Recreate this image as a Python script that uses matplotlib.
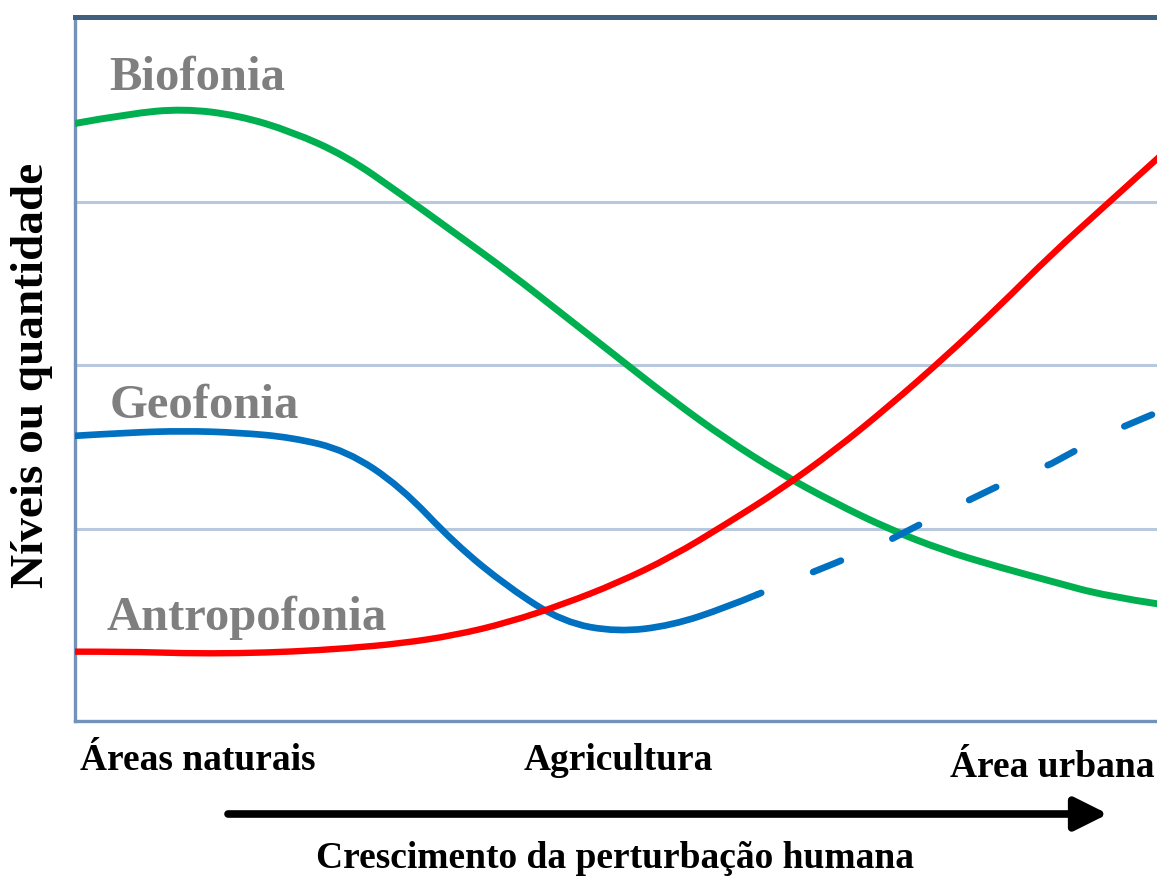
import matplotlib.pyplot as plt
from matplotlib.path import Path
from matplotlib.patches import PathPatch

plt.rcParams['lines.scale_dashes'] = False

# x = disturbance gradient (0 = natural areas, 10 = urban area)
x_pts = [0, 0.5, 1, 1.5, 2, 2.5, 3, 3.5, 4, 4.5, 5, 5.5, 6, 6.5, 7, 7.5, 8, 8.5, 9, 9.5, 10]

biofonia = [3.48, 3.54, 3.57, 3.53, 3.43, 3.28, 3.05, 2.81, 2.57, 2.31, 2.05,
            1.79, 1.55, 1.34, 1.16, 1.00, 0.87, 0.77, 0.68, 0.59, 0.54]
antropofonia = [0.25, 0.25, 0.24, 0.24, 0.25, 0.27, 0.30, 0.35, 0.43, 0.54, 0.67,
                0.83, 1.03, 1.24, 1.48, 1.75, 2.04, 2.35, 2.68, 2.98, 3.28]

# geofonia: observed part (solid) and projected part (dashed)
geo_x = [0, 0.5, 1, 1.5, 2, 2.5, 3, 3.5, 4, 4.5, 5, 5.5, 6, 6.29]
geofonia = [1.57, 1.59, 1.60, 1.59, 1.56, 1.48, 1.26, 0.91, 0.64, 0.43, 0.37, 0.41, 0.52, 0.60]
geo_proj_x = [6.29, 7, 7.5, 8, 8.5, 9, 9.5, 10]
geo_proj = [0.60, 0.79, 0.93, 1.10, 1.26, 1.40, 1.58, 1.72]

grid_levels = [1, 2, 3]
zone_labels = ["Áreas naturais", "Agricultura", "Área urbana"]


# smooth curve: data points used as quadratic bezier control points
def smooth_line(ax, xs, ys, **kw):
    pts = list(zip(xs, ys))
    verts = [pts[0]]
    codes = [Path.MOVETO]
    for i in range(1, len(pts) - 1):
        mid = ((pts[i][0] + pts[i + 1][0]) / 2, (pts[i][1] + pts[i + 1][1]) / 2)
        if i == len(pts) - 2:
            mid = pts[i + 1]
        verts += [pts[i], mid]
        codes += [Path.CURVE3, Path.CURVE3]
    if len(pts) == 2:
        verts.append(pts[1])
        codes.append(Path.LINETO)
    patch = PathPatch(Path(verts, codes), fill=False, **kw)
    ax.add_patch(patch)


fig = plt.figure(figsize=(11.57, 8.78), dpi=100)
W, H = 1157, 878
ax = fig.add_axes([75 / W, (H - 722) / H, (1160 - 75) / W, (722 - 18) / H])

smooth_line(ax, x_pts, biofonia, edgecolor='#00b050', lw=5, capstyle='round', zorder=3)
smooth_line(ax, x_pts, antropofonia, edgecolor='#ff0000', lw=4.6, capstyle='round', zorder=4)
smooth_line(ax, geo_x, geofonia, edgecolor='#0070c0', lw=4.8, capstyle='round', zorder=3)
ax.plot(geo_proj_x, geo_proj, color='#0070c0', lw=4.8, dash_capstyle='round',
        linestyle=(18.7, (21.6, 40.3)), zorder=3)

ax.set_xlim(0, 10)
ax.set_ylim(-0.174, 4.131)
ax.set_yticks(grid_levels)
ax.set_xticks([])
ax.tick_params(length=0, labelleft=False)
ax.grid(axis='y', color='#b9c9dd', lw=2.2, zorder=0)

ax.spines['right'].set_visible(False)
ax.spines['top'].set_color('#41607f')
ax.spines['top'].set_linewidth(3.6)
for s in ['left', 'bottom']:
    ax.spines[s].set_color('#7393bb')
    ax.spines[s].set_linewidth(2.4)

serif = 'Liberation Serif'
lab = dict(family=serif, weight='bold', color='#7f7f7f', fontsize=35, va='baseline')
ax.text(0.32, 3.69, "Biofonia", **lab)
ax.text(0.32, 1.685, "Geofonia", **lab)
ax.text(0.29, 0.39, "Antropofonia", **lab)

fig.text(32 / W, (H - 375) / H, "Níveis ou quantidade", rotation=90, family=serif,
         weight='bold', fontsize=34, ha='center', va='center', color='black')

zone_x = [80 / W, 618 / W, 1155 / W]
zone_y = [(H - 770) / H, (H - 770) / H, (H - 777) / H]
zone_ha = ['left', 'center', 'right']
for t, zx, zy, ha in zip(zone_labels, zone_x, zone_y, zone_ha):
    fig.text(zx, zy, t, family=serif, weight='bold', fontsize=27, ha=ha,
             va='baseline', color='black')

fig.text(615 / W, (H - 868) / H, "Crescimento da perturbação humana", family=serif,
         weight='bold', fontsize=27, ha='center', va='baseline', color='black')

ax.annotate('', xy=(1108, H - 815), xytext=(228, H - 815),
            xycoords='figure pixels', textcoords='figure pixels',
            arrowprops=dict(arrowstyle='-|>,head_length=1.0,head_width=0.5',
                            mutation_scale=20, lw=5.5, color='black',
                            shrinkA=0, shrinkB=0))

fig.savefig('out.png', dpi=100)
